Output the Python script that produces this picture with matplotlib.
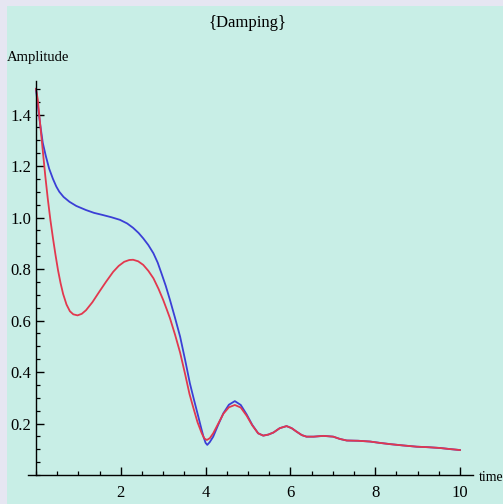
import matplotlib
matplotlib.use("Agg")
import matplotlib.pyplot as plt
from matplotlib.patches import Rectangle
from matplotlib.ticker import MultipleLocator

plt.rcParams["font.family"] = ["Liberation Serif", "DejaVu Serif"]

# Curva azul
tempo_azul = [0.00, 0.04, 0.10, 0.16, 0.23, 0.31, 0.40, 0.48, 0.55, 0.65, 0.79, 0.95,
              1.18, 1.37, 1.57, 1.78, 1.98, 2.15, 2.29, 2.42, 2.53, 2.65, 2.77, 2.87,
              2.96, 3.06, 3.16, 3.28, 3.40, 3.52, 3.63, 3.73, 3.83, 3.90, 3.95, 4.00,
              4.04, 4.10, 4.18, 4.30, 4.42, 4.55, 4.69, 4.83, 4.97, 5.10, 5.24, 5.36,
              5.48, 5.60, 5.75, 5.91, 6.03, 6.15, 6.27, 6.38, 6.55, 6.78, 7.01, 7.17,
              7.33, 7.60, 7.88, 8.10, 8.35, 8.65, 8.98, 9.25, 9.53, 9.75, 10.0]
amp_azul = [1.50, 1.44, 1.36, 1.29, 1.24, 1.19, 1.15, 1.12, 1.10, 1.08, 1.061, 1.045,
            1.029, 1.018, 1.010, 1.001, 0.991, 0.977, 0.960, 0.940, 0.919, 0.893, 0.861, 0.825,
            0.783, 0.735, 0.680, 0.610, 0.537, 0.445, 0.356, 0.290, 0.226, 0.180, 0.149, 0.125,
            0.117, 0.128, 0.149, 0.196, 0.240, 0.273, 0.287, 0.272, 0.235, 0.195, 0.162, 0.153,
            0.157, 0.165, 0.182, 0.190, 0.182, 0.168, 0.155, 0.149, 0.149, 0.152, 0.149, 0.140,
            0.134, 0.133, 0.130, 0.125, 0.120, 0.115, 0.110, 0.108, 0.105, 0.101, 0.097]

# Curva vermelha
tempo_verm = [0.00, 0.04, 0.10, 0.16, 0.22, 0.28, 0.34, 0.40, 0.46, 0.52, 0.58, 0.64,
              0.72, 0.80, 0.88, 0.98, 1.08, 1.18, 1.33, 1.49, 1.65, 1.82, 1.95, 2.08,
              2.20, 2.29, 2.41, 2.53, 2.65, 2.77, 2.89, 3.00, 3.08, 3.16, 3.28, 3.40,
              3.52, 3.62, 3.71, 3.81, 3.91, 3.97, 4.03, 4.10, 4.18, 4.30, 4.42, 4.55,
              4.69, 4.83, 4.97, 5.10, 5.24, 5.36, 5.48, 5.60, 5.75, 5.91, 6.03, 6.15,
              6.27, 6.38, 6.55, 6.78, 7.01, 7.17, 7.33, 7.60, 7.88, 8.10, 8.35, 8.65,
              8.98, 9.25, 9.53, 9.75, 10.0]
amp_verm = [1.50, 1.46, 1.36, 1.26, 1.16, 1.07, 0.99, 0.92, 0.855, 0.795, 0.745, 0.703,
            0.662, 0.636, 0.624, 0.620, 0.626, 0.640, 0.671, 0.711, 0.750, 0.789, 0.812, 0.828,
            0.835, 0.836, 0.830, 0.816, 0.793, 0.764, 0.723, 0.680, 0.645, 0.609, 0.545, 0.475,
            0.390, 0.315, 0.262, 0.205, 0.162, 0.142, 0.136, 0.143, 0.162, 0.200, 0.238, 0.263,
            0.272, 0.262, 0.230, 0.193, 0.162, 0.153, 0.157, 0.165, 0.182, 0.190, 0.182, 0.168,
            0.155, 0.149, 0.149, 0.152, 0.149, 0.140, 0.134, 0.133, 0.130, 0.125, 0.120, 0.115,
            0.110, 0.108, 0.105, 0.101, 0.097]

ticks_x = [2, 4, 6, 8, 10]
ticks_y = [0.2, 0.4, 0.6, 0.8, 1.0, 1.2, 1.4]
rotulos_y = ["0.2", "0.4", "0.6", "0.8", "1.0", "1.2", "1.4"]

fig = plt.figure(figsize=(5.03, 5.04), dpi=100)
fig.patch.set_facecolor("#e6e6f2")
# Fundo ciano atrás do gráfico
fig.patches.append(Rectangle((7 / 503, 0), 1, 1 - 6 / 504, transform=fig.transFigure,
                             facecolor="#c8eee6", edgecolor="none", zorder=-10))

ax = fig.add_axes([0.0547, 0.0575, 0.885, 0.7817])
ax.patch.set_alpha(0)

ax.plot(tempo_azul, amp_azul, color="#3b3fd6", linewidth=1.3, clip_on=False,
        solid_joinstyle="round")
ax.plot(tempo_verm, amp_verm, color="#e2384e", linewidth=1.3, clip_on=False,
        solid_joinstyle="round")

ax.set_xlim(-0.2, 10.3)
ax.set_ylim(0, 1.53)

# Eixos cruzando na origem
ax.spines["left"].set_position(("data", 0))
ax.spines["right"].set_visible(False)
ax.spines["top"].set_visible(False)
for s in ("left", "bottom"):
    ax.spines[s].set_linewidth(1.0)

ax.set_xticks(ticks_x)
ax.set_yticks(ticks_y)
ax.set_yticklabels(rotulos_y)
ax.xaxis.set_minor_locator(MultipleLocator(0.5))
ax.yaxis.set_minor_locator(MultipleLocator(0.05))
ax.tick_params(which="major", direction="in", length=5.5, width=1.0, labelsize=12)
ax.tick_params(which="minor", direction="in", length=3, width=0.9)
ax.tick_params(axis="x", which="major", pad=7)
ax.tick_params(axis="y", which="major", pad=3.5)

fig.text(0.493, 0.954, "{Damping}", ha="center", va="center", fontsize=12)
fig.text(0.014, 0.885, "Amplitude", ha="left", va="center", fontsize=10.5)
fig.text(0.951, 0.052, "time", ha="left", va="center", fontsize=10)

fig.savefig("out.png", dpi=100, facecolor=fig.get_facecolor())
